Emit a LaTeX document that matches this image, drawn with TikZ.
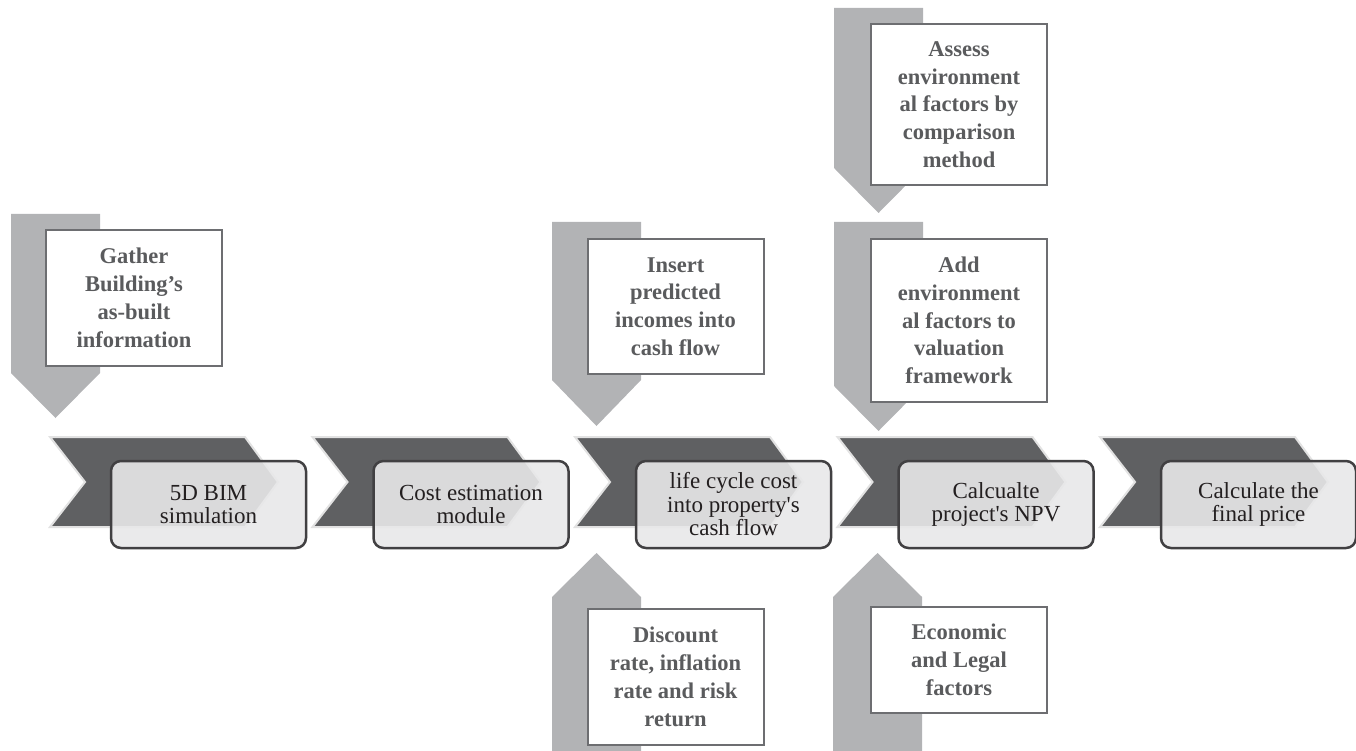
\documentclass[tikz,border=0pt]{standalone}
\usepackage{fontspec}
\setmainfont{Liberation Serif}[Ligatures=TeXOff]
\definecolor{chev}{HTML}{5F6062}
\definecolor{chevedge}{HTML}{E2E2E2}
\definecolor{procfill}{HTML}{E8E8E9}
\definecolor{procedge}{HTML}{414042}
\definecolor{arrowgray}{HTML}{B2B3B5}
\definecolor{infoedge}{HTML}{6D6E71}
\definecolor{infotext}{HTML}{5A5B5D}
\definecolor{proctext}{HTML}{231F20}
\tikzset{
  procbox/.style={draw=procedge, line width=2.5pt, rounded corners=10pt, fill=procfill, fill opacity=0.9, text opacity=1,
    minimum width=195pt, minimum height=87pt, inner sep=0pt, align=center, text=proctext,
    font=\fontsize{23}{23.5}\selectfont},
  infobox/.style={draw=infoedge, line width=2pt, fill=white, minimum width=176pt, inner sep=0pt, align=center,
    text=infotext, font=\fontsize{22.5}{27.8}\selectfont\bfseries},
  chevshape/.style={fill=chev, draw=chevedge, line width=2pt, line join=miter},
  grayarrow/.style={fill=arrowgray, draw=none}
}
\begin{document}
\begin{tikzpicture}[x=1pt,y=-1pt]
\useasboundingbox (0,0) rectangle (1356,751);
% gray arrows
\fill[grayarrow] (11,214) -- (100,214) -- (100,373) -- (55.5,418) -- (11,373) -- cycle;
\fill[grayarrow] (552,222) -- (641,222) -- (641,380) -- (596.5,426) -- (552,380) -- cycle;
\fill[grayarrow] (834,8) -- (923,8) -- (923,168) -- (878.5,213) -- (834,168) -- cycle;
\fill[grayarrow] (834,222) -- (923,222) -- (923,386) -- (878.5,431) -- (834,386) -- cycle;
\fill[grayarrow] (552,751) -- (552,597) -- (596.5,553) -- (641,597) -- (641,751) -- cycle;
\fill[grayarrow] (833,751) -- (833,597) -- (877.5,553) -- (922,597) -- (922,751) -- cycle;
% info boxes
\node[infobox, minimum height=136pt] (g1) at (134,298) {Gather\\Building’s\\as-built\\information};
\node[infobox, minimum height=135pt] (g3) at (675.5,306.5) {Insert\\predicted\\incomes into\\cash flow};
\node[infobox, minimum height=136pt] (g3b) at (675.5,677) {Discount\\rate, inflation\\rate and risk\\return};
\node[infobox, minimum height=161pt] (g4a) at (959,104.5) {Assess\\environment\\al factors by\\comparison\\method};
\node[infobox, minimum height=163pt] (g4b) at (959,320.5) {Add\\environment\\al factors to\\valuation\\framework};
\node[infobox, minimum height=106pt] (g4c) at (959,660) {Economic\\and Legal\\factors};
% chevrons
\foreach \i in {0,...,4}{
  \pgfmathsetmacro{\xx}{50+262.5*\i}
  \draw[chevshape] (\xx,437) -- ({\xx+195},437) -- ({\xx+228},482) -- ({\xx+195},527) -- (\xx,527) -- ({\xx+35},482) -- cycle;
}
% process boxes
\node[procbox] (p1) at (208.5,504.5) {5D BIM\\simulation};
\node[procbox] (p2) at (471,504.5) {Cost estimation\\module};
\node[procbox] (p3) at (733.5,504.5) {life cycle cost\\into property's\\cash flow};
\node[procbox] (p4) at (996,504.5) {Calcualte\\project's NPV};
\node[procbox] (p5) at (1258.5,504.5) {Calculate the\\final price};
\end{tikzpicture}
\end{document}
